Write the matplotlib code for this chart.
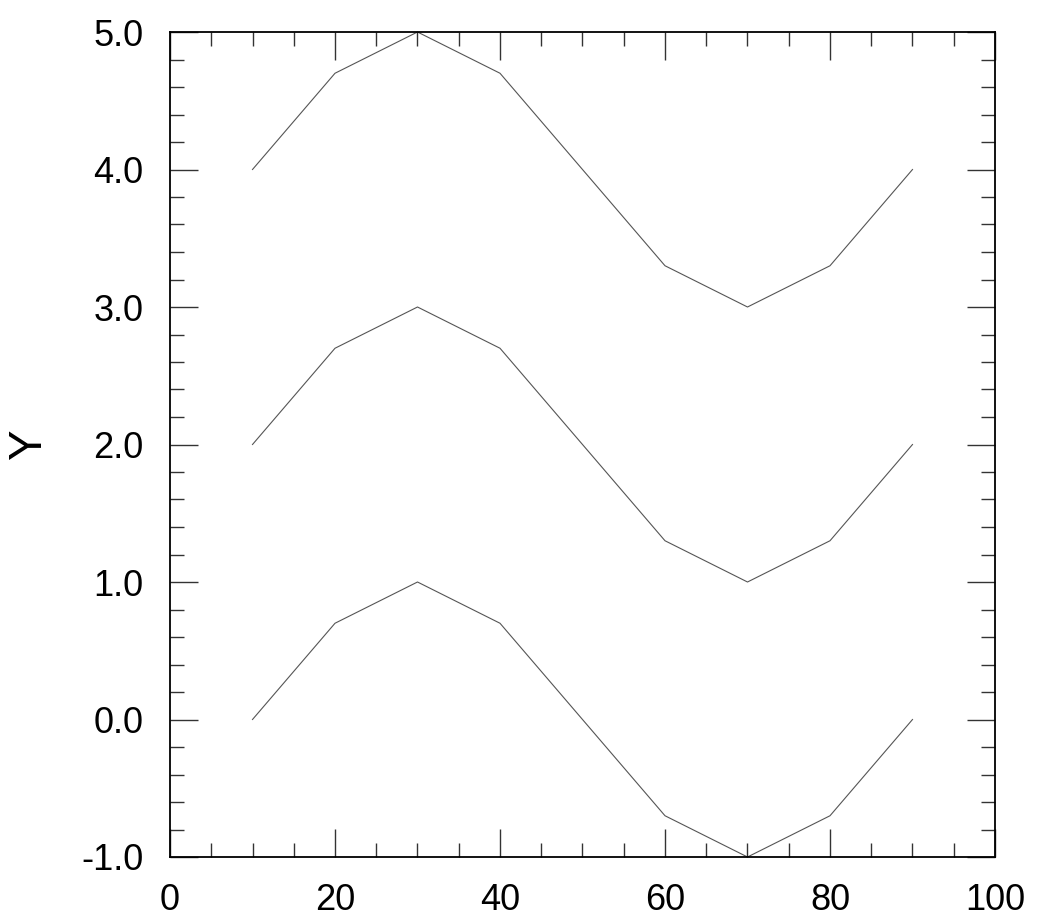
import matplotlib
matplotlib.use("Agg")
import matplotlib.pyplot as plt
from matplotlib.ticker import MultipleLocator, FormatStrFormatter

x = [10, 20, 30, 40, 50, 60, 70, 80, 90]
y1 = [0.0, 0.7, 1.0, 0.7, 0.0, -0.7, -1.0, -0.7, 0.0]
y2 = [2.0, 2.7, 3.0, 2.7, 2.0, 1.3, 1.0, 1.3, 2.0]
y3 = [4.0, 4.7, 5.0, 4.7, 4.0, 3.3, 3.0, 3.3, 4.0]

plt.rcParams['font.family'] = ['Liberation Sans', 'DejaVu Sans']
fig = plt.figure(figsize=(10.39, 9.21), dpi=100)
ax = fig.add_axes([170/1039, 1-857/921, (995-170)/1039, (857-32)/921])
for ys in (y1, y2, y3):
    ax.plot(x, ys, color='#555555', lw=0.8, clip_on=False)
ax.set_xlim(0, 100)
ax.set_ylim(-1, 5)
ax.xaxis.set_major_locator(MultipleLocator(20))
ax.xaxis.set_minor_locator(MultipleLocator(5))
ax.yaxis.set_major_locator(MultipleLocator(1))
ax.yaxis.set_minor_locator(MultipleLocator(0.2))
ax.yaxis.set_major_formatter(FormatStrFormatter('%.1f'))
ax.tick_params(which='both', direction='in', top=True, right=True, labelsize=26, width=1, color='#333333')
ax.tick_params(which='major', length=20)
ax.tick_params(which='minor', length=10)
ax.tick_params(axis='x', which='major', pad=19)
ax.tick_params(axis='y', which='major', pad=19)
for s in ax.spines.values():
    s.set_linewidth(1.3)
ax.set_ylabel('Y', fontsize=33, labelpad=22)
fig.savefig('out.png', dpi=100)
